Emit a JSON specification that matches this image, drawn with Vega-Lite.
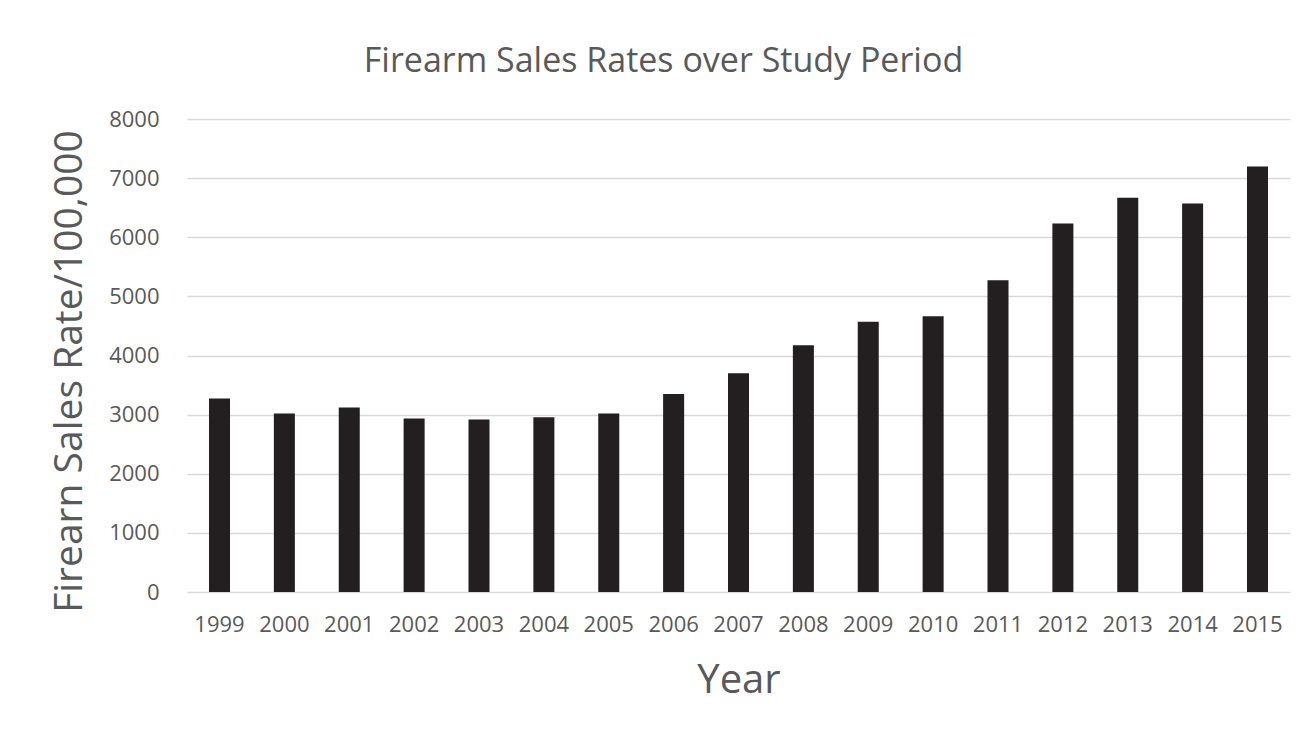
{
  "$schema": "https://vega.github.io/schema/vega-lite/v6.json",
  "autosize": "none",
  "width": 1103,
  "height": 473,
  "padding": {"left": 187, "top": 119, "right": 19, "bottom": 147},
  "background": "white",
  "title": {
    "text": "Firearm Sales Rates over Study Period",
    "frame": "group",
    "anchor": "middle",
    "dx": -75,
    "baseline": "alphabetic",
    "offset": 2,
    "font": "Open Sans",
    "fontSize": 34,
    "fontWeight": "normal",
    "color": "#595959"
  },
  "data": {
    "values": [
      {"year": "1999", "rate": 3271},
      {"year": "2000", "rate": 3017},
      {"year": "2001", "rate": 3119},
      {"year": "2002", "rate": 2933},
      {"year": "2003", "rate": 2916},
      {"year": "2004", "rate": 2955},
      {"year": "2005", "rate": 3017},
      {"year": "2006", "rate": 3350},
      {"year": "2007", "rate": 3700},
      {"year": "2008", "rate": 4174},
      {"year": "2009", "rate": 4569},
      {"year": "2010", "rate": 4664},
      {"year": "2011", "rate": 5274},
      {"year": "2012", "rate": 6232},
      {"year": "2013", "rate": 6667},
      {"year": "2014", "rate": 6571},
      {"year": "2015", "rate": 7197}
    ]
  },
  "mark": {"type": "bar", "color": "#231f20"},
  "encoding": {
    "x": {
      "field": "year",
      "type": "ordinal",
      "scale": {"paddingInner": 0.676, "paddingOuter": 0.339},
      "axis": {
        "title": "Year",
        "labelAngle": 0,
        "labelFont": "Open Sans",
        "labelFontSize": 22,
        "labelColor": "#595959",
        "labelPadding": 22,
        "ticks": false,
        "tickSize": 0,
        "domain": false,
        "titleFont": "Open Sans",
        "titleFontSize": 40,
        "titleFontWeight": "normal",
        "titleColor": "#595959",
        "titlePadding": 25
      }
    },
    "y": {
      "field": "rate",
      "type": "quantitative",
      "scale": {"domain": [0, 8000], "nice": false},
      "axis": {
        "title": "Firearn Sales Rate/100,000",
        "values": [0, 1000, 2000, 3000, 4000, 5000, 6000, 7000, 8000],
        "format": "d",
        "labelFont": "Open Sans",
        "labelFontSize": 22,
        "labelColor": "#595959",
        "labelPadding": 28,
        "ticks": false,
        "tickSize": 0,
        "domain": false,
        "grid": true,
        "gridColor": "#d9d9d9",
        "gridWidth": 1.5,
        "titleFont": "Open Sans",
        "titleFontSize": 39,
        "titleFontWeight": "normal",
        "titleColor": "#595959",
        "titlePadding": 19,
        "titleY": 252
      }
    }
  },
  "config": {
    "view": {"stroke": null},
    "axisX": {"grid": false}
  }
}
